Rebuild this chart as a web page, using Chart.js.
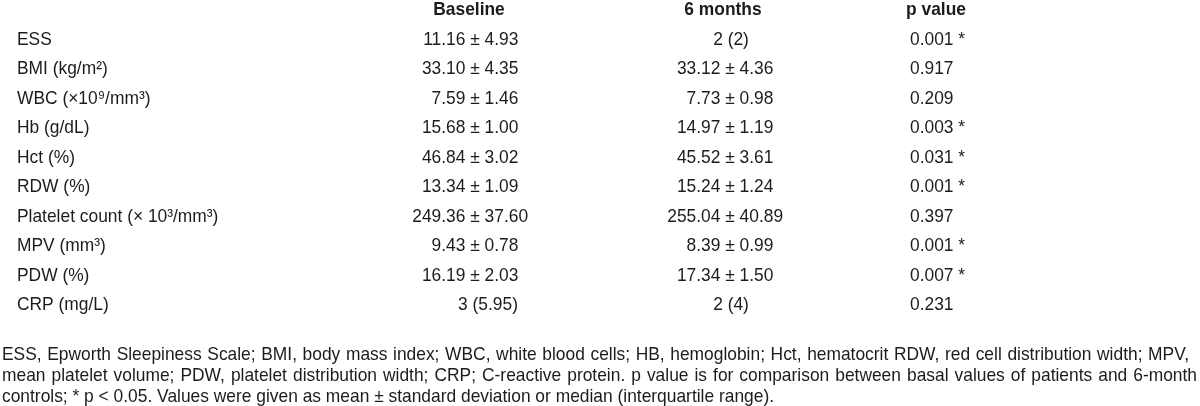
<!DOCTYPE html>
<html>
<head>
<meta charset="utf-8">
<script src="https://cdn.jsdelivr.net/npm/chart.js@4/dist/chart.umd.min.js"></script>
<style>
  html, body { margin: 0; padding: 0; background: #fff; }
  canvas { display: block; }
</style>
</head>
<body>
<canvas id="tableChart" width="1200" height="406"></canvas>
<script>
// table data
var headers = ['Baseline', '6 months', 'p value'];
var rowLabels = ['ESS', 'BMI (kg/m²)', 'WBC (×10⁹/mm³)', 'Hb (g/dL)', 'Hct (%)', 'RDW (%)',
  'Platelet count (× 10³/mm³)', 'MPV (mm³)', 'PDW (%)', 'CRP (mg/L)'];
var baseline = ['11.16 ± 4.93', '33.10 ± 4.35', '7.59 ± 1.46', '15.68 ± 1.00', '46.84 ± 3.02',
  '13.34 ± 1.09', '249.36 ± 37.60', '9.43 ± 0.78', '16.19 ± 2.03', '3 (5.95)'];
var sixMonths = ['2 (2)', '33.12 ± 4.36', '7.73 ± 0.98', '14.97 ± 1.19', '45.52 ± 3.61',
  '15.24 ± 1.24', '255.04 ± 40.89', '8.39 ± 0.99', '17.34 ± 1.50', '2 (4)'];
var pValues = ['0.001 *', '0.917', '0.209', '0.003 *', '0.031 *', '0.001 *', '0.397',
  '0.001 *', '0.007 *', '0.231'];
var footnote = [
  'ESS, Epworth Sleepiness Scale; BMI, body mass index; WBC, white blood cells; HB, hemoglobin; Hct, hematocrit RDW, red cell distribution width; MPV,',
  'mean platelet volume; PDW, platelet distribution width; CRP; C-reactive protein. p value is for comparison between basal values of patients and 6-month',
  'controls; * p < 0.05. Values were given as mean ± standard deviation or median (interquartile range).'
];

// layout (x in scale units = px)
var labelX = 17;
var headerX = [469, 723, 936];
var pmX = [475, 730];       // where the ± sits
var medianX = [488, 731];   // centre of "median (IQR)" cells
var pX = 910;
var noteX = 2, noteY = 355, noteStep = 21;
var noteRight = [1189, 1197, null];  // justified lines end here
var TEXT = '#1e1b1c';
var SIZE = 19;

function hasFont(name) {
  var c = document.createElement('canvas').getContext('2d');
  var s = 'abcdefghijklmnopqrstuvwxyz0123456789';
  c.font = '40px monospace';
  var a = c.measureText(s).width;
  c.font = "40px '" + name + "', monospace";
  return c.measureText(s).width !== a;
}
var FAMILY = hasFont('Liberation Sans Narrow') ? "'Liberation Sans Narrow'" : "'Liberation Sans', Arial";
var sx = 1;

function txt(ctx, s, x, y, align, bold) {
  ctx.save();
  ctx.font = (bold ? 'bold ' : '') + SIZE + 'px ' + FAMILY;
  ctx.translate(x, y);
  ctx.scale(sx, 1);
  ctx.textAlign = align;
  ctx.textBaseline = 'middle';
  ctx.fillStyle = TEXT;
  ctx.fillText(s, 0, 0);
  ctx.restore();
}

function w(ctx, s) {
  ctx.font = SIZE + 'px ' + FAMILY;
  return ctx.measureText(s).width * sx;
}

// cell with ± aligned on pmX, median strings centred
function cell(ctx, s, col, y, xs) {
  var i = s.indexOf('±');
  if (i < 0) {
    txt(ctx, s, xs.getPixelForValue(medianX[col]), y, 'center');
    return;
  }
  var left = s.slice(0, i);
  var x0 = xs.getPixelForValue(pmX[col]) - w(ctx, left) - w(ctx, '±') / 2;
  txt(ctx, s, x0, y, 'left');
}

// footnote line, spread over the full width when a right edge is given
function noteLine(ctx, line, x, right, y) {
  if (!right) { txt(ctx, line, x, y, 'left'); return; }
  var words = line.split(' ');
  var total = 0;
  words.forEach(function(wd) { total += w(ctx, wd); });
  var gap = (right - x - total) / (words.length - 1);
  words.forEach(function(wd) {
    txt(ctx, wd, x, y, 'left');
    x += w(ctx, wd) + gap;
  });
}

var tablePlugin = {
  id: 'tablePlugin',
  afterDraw: function(chart) {
    var ctx = chart.ctx;
    var xs = chart.scales.x, ys = chart.scales.y;
    // horizontal condensing calibrated on the last (unjustified) footnote line
    ctx.font = SIZE + 'px ' + FAMILY;
    sx = 772 / ctx.measureText(footnote[2]).width;

    var hy = ys.getPixelForValue(0);
    headers.forEach(function(h, j) {
      txt(ctx, h, xs.getPixelForValue(headerX[j]), hy, 'center', true);
    });
    rowLabels.forEach(function(lab, i) {
      var y = ys.getPixelForValue(i + 1);
      txt(ctx, lab, xs.getPixelForValue(labelX), y, 'left');
      cell(ctx, baseline[i], 0, y, xs);
      cell(ctx, sixMonths[i], 1, y, xs);
      txt(ctx, pValues[i], xs.getPixelForValue(pX), y, 'left');
    });
    footnote.forEach(function(line, k) {
      var r = noteRight[k] ? xs.getPixelForValue(noteRight[k]) : null;
      noteLine(ctx, line, xs.getPixelForValue(noteX), r, noteY + k * noteStep);
    });
  }
};

var ctx = document.getElementById('tableChart').getContext('2d');
var tableChart = new Chart(ctx, {
  type: 'scatter',
  data: { datasets: [] },
  options: {
    responsive: false,
    animation: false,
    layout: { padding: { top: 10, bottom: 101, left: 0, right: 0 } },
    plugins: { legend: { display: false }, tooltip: { enabled: false } },
    scales: {
      x: { type: 'linear', min: 0, max: 1200, display: false },
      y: { type: 'category', labels: ['header'].concat(rowLabels), offset: false, display: false }
    }
  },
  plugins: [tablePlugin]
});
</script>
</body>
</html>
